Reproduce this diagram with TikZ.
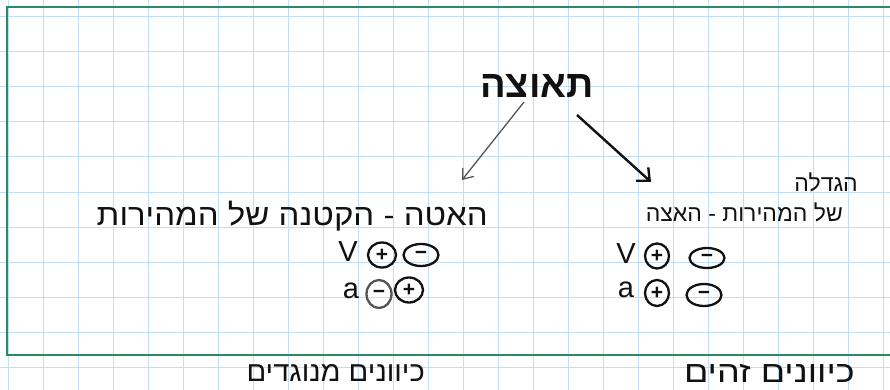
\documentclass[tikz,border=0pt]{standalone}
\usepackage{fontspec}
\setmainfont{Liberation Sans}
\newfontfamily\hebfont[Script=Hebrew]{Liberation Sans}
\TeXXeTstate=1
\usetikzlibrary{arrows.meta,shapes.geometric}
\definecolor{gridblue}{HTML}{C2DEF4}
\definecolor{framegreen}{HTML}{2B8A62}
\definecolor{ink}{HTML}{111111}
\definecolor{softink}{HTML}{555555}
\begin{document}
\begin{tikzpicture}[x=1pt,y=-1pt,
  word/.style={inner sep=0pt, text=ink},
  sgn/.style={draw=ink, ellipse, line width=2.3pt, inner sep=0pt,
              minimum width=28pt, minimum height=25pt,
              font=\fontsize{21}{21}\selectfont\bfseries, text=ink},
  wide/.style={minimum width=35pt, minimum height=22pt},
  letter/.style={inner sep=0pt, text=ink, font=\fontsize{29}{29}\selectfont},
  thinarrow/.style={draw=softink, line width=1.3pt,
              -{Straight Barb[length=9pt,width=14pt]}},
  boldarrow/.style={draw=ink, line width=2.4pt,
              -{Straight Barb[length=10pt,width=18pt]}}]
\useasboundingbox (0,0) rectangle (890,390);
\fill[white] (0,0) rectangle (890,390);

% squared paper
\foreach \x in {8,43,...,888}
  \draw[gridblue, line width=1pt] (\x,0) -- (\x,390);
\foreach \y in {17,52,...,390}
  \draw[gridblue, line width=1pt] (0,\y) -- (890,\y);

% page frame
\draw[framegreen, line width=2.6pt] (892,7) -- (7,7) -- (7,355) -- (892,355);

% title
\node[word, font=\fontsize{38}{40}\selectfont\bfseries\hebfont] (title) at (537,86)
  {\beginR תאוצה\endR};

% two branches
\node[word, anchor=east, font=\fontsize{30}{32}\selectfont\hebfont\addfontfeatures{FakeStretch=1.1}]
  (slow) at (488,216) {\beginR האטה - הקטנה של המהירות\endR};
\node[word, anchor=east, font=\fontsize{23}{26}\selectfont\hebfont]
  (fast) at (843,212) {\beginR של המהירות - האצה\endR};
\node[word, anchor=east, font=\fontsize{23}{26}\selectfont\hebfont]
  (fastup) at (858,182) {\beginR הגדלה\endR};

\coordinate (slowfrom) at (524,102);
\coordinate (slowto) at (462,180);
\coordinate (fastfrom) at (577,115);
\coordinate (fastto) at (651,182);
\draw[thinarrow] (slowfrom) -- (slowto);
\draw[boldarrow] (fastfrom) -- (fastto);

% signs: deceleration
\node[letter] (v1) at (348,252) {V};
\node[sgn] (v1p) at (382,255) {+};
\node[sgn, wide] (v1m) at (421,255) {−};
\node[letter] (a1) at (351,291) {a};
\node[sgn, draw=softink, minimum width=25pt, minimum height=28pt] (a1m) at (379,294) {−};
\node[sgn] (a1p) at (409,290) {+};

% signs: acceleration
\node[letter] (v2) at (626,254) {V};
\node[sgn, minimum width=24pt] (v2p) at (657,256) {+};
\node[sgn, wide, minimum height=20pt] (v2m) at (707,258) {−};
\node[letter] (a2) at (626,290) {a};
\node[sgn, minimum width=24pt, minimum height=26pt] (a2p) at (657,293) {+};
\node[sgn, wide] (a2m) at (704,295) {−};

% directions
\node[word, anchor=east, font=\fontsize{28}{30}\selectfont\hebfont\addfontfeatures{FakeStretch=1.04}]
  (opp) at (425,373) {\beginR כיוונים מנוגדים\endR};
\node[word, anchor=east, font=\fontsize{30}{32}\selectfont\hebfont\addfontfeatures{FakeStretch=1.2}]
  (same) at (855,373) {\beginR כיוונים זהים\endR};
\end{tikzpicture}
\end{document}
